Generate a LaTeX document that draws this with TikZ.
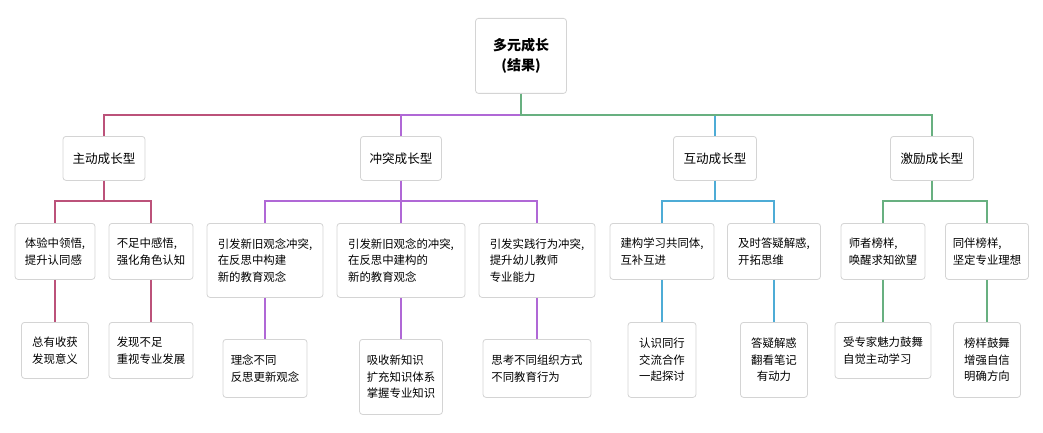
\documentclass[tikz,border=0pt]{standalone}
\usepackage{fontspec}
\setmainfont{Noto Sans CJK SC}
\definecolor{zdred}{RGB}{188,82,122}
\definecolor{ctpurple}{RGB}{176,104,214}
\definecolor{hdblue}{RGB}{78,172,214}
\definecolor{jlgreen}{RGB}{104,176,128}
\begin{document}
\begin{tikzpicture}[x=1pt,y=-1pt,
  box/.style={draw=black!17,line width=0.8pt,rounded corners=3pt,fill=white,
    inner sep=0pt,anchor=north,align=left,font=\fontsize{11.4}{16.7}\selectfont},
  rootbox/.style={box,align=center,font=\fontsize{14}{20}\selectfont\bfseries},
  typebox/.style={box,minimum height=44pt,font=\fontsize{12.6}{15}\selectfont},
  link/.style={line width=1.3pt}]

\useasboundingbox (0,0) rectangle (1043,433);

\coordinate (bus0) at (0,115);
\coordinate (bus1) at (0,201);

\node[rootbox,minimum width=91pt,minimum height=75pt] (root) at (521,18) {多元成长\\(结果)};

\node[typebox,minimum width=82pt] (zd) at (104,136) {主动成长型};
\node[typebox,minimum width=81pt] (ct) at (401,136) {冲突成长型};
\node[typebox,minimum width=83pt] (hd) at (715,136) {互动成长型};
\node[typebox,minimum width=83pt] (jl) at (932,136) {激励成长型};

\node[box,minimum width=80pt,minimum height=56pt] (zd1) at (55,223) {体验中领悟,\\提升认同感};
\node[box,minimum width=84pt,minimum height=56pt] (zd2) at (151,223) {不足中感悟,\\强化角色认知};
\node[box,minimum width=116pt,minimum height=74pt] (ct1) at (265,223) {引发新旧观念冲突,\\在反思中构建\\新的教育观念};
\node[box,minimum width=128pt,minimum height=74pt] (ct2) at (401,223) {引发新旧观念的冲突,\\在反思中建构的\\新的教育观念};
\node[box,minimum width=116pt,minimum height=74pt] (ct3) at (537,223) {引发实践行为冲突,\\提升幼儿教师\\专业能力};
\node[box,minimum width=104pt,minimum height=56pt] (hd1) at (662,223) {建构学习共同体,\\互补互进};
\node[box,minimum width=93pt,minimum height=56pt] (hd2) at (774,223) {及时答疑解惑,\\开拓思维};
\node[box,minimum width=84pt,minimum height=56pt] (jl1) at (883,223) {师者榜样,\\唤醒求知欲望};
\node[box,minimum width=83pt,minimum height=56pt] (jl2) at (987,223) {同伴榜样,\\坚定专业理想};

\node[box,minimum width=67pt,minimum height=56pt,align=center] (zd1a) at (55,322) {总有收获\\发现意义};
\node[box,minimum width=84pt,minimum height=56pt] (zd2a) at (151,322) {发现不足\\重视专业发展};
\node[box,minimum width=84pt,minimum height=58pt] (ct1a) at (265,339) {理念不同\\反思更新观念};
\node[box,minimum width=83pt,minimum height=75pt] (ct2a) at (401,339) {吸收新知识\\扩充知识体系\\掌握专业知识};
\node[box,minimum width=108pt,minimum height=58pt] (ct3a) at (537,339) {思考不同组织方式\\不同教育行为};
\node[box,minimum width=68pt,minimum height=75pt,align=center] (hd1a) at (662,322) {认识同行\\交流合作\\一起探讨};
\node[box,minimum width=67pt,minimum height=75pt,align=center] (hd2a) at (774,322) {答疑解惑\\翻看笔记\\有动力};
\node[box,minimum width=96pt,minimum height=56pt] (jl1a) at (883,322) {受专家魅力鼓舞\\自觉主动学习};
\node[box,minimum width=67pt,minimum height=75pt,align=center] (jl2a) at (987,322) {榜样鼓舞\\增强自信\\明确方向};

\begin{scope}[link,zdred]
\draw (root.south) -- (root.south |- bus0) -| (zd.north);
\draw (zd.south) -- (zd.south |- bus1) -| (zd1.north);
\draw (zd.south) -- (zd.south |- bus1) -| (zd2.north);
\draw (zd1.south) -- (zd1a.north);
\draw (zd2.south) -- (zd2a.north);
\end{scope}

\begin{scope}[link,ctpurple]
\draw (root.south) -- (root.south |- bus0) -| (ct.north);
\draw (ct.south) -- (ct.south |- bus1) -| (ct1.north);
\draw (ct.south) -- (ct2.north);
\draw (ct.south) -- (ct.south |- bus1) -| (ct3.north);
\draw (ct1.south) -- (ct1a.north);
\draw (ct2.south) -- (ct2a.north);
\draw (ct3.south) -- (ct3a.north);
\end{scope}

\begin{scope}[link,hdblue]
\draw (root.south) -- (root.south |- bus0) -| (hd.north);
\draw (hd.south) -- (hd.south |- bus1) -| (hd1.north);
\draw (hd.south) -- (hd.south |- bus1) -| (hd2.north);
\draw (hd1.south) -- (hd1a.north);
\draw (hd2.south) -- (hd2a.north);
\end{scope}

\begin{scope}[link,jlgreen]
\draw (root.south) -- (root.south |- bus0) -| (jl.north);
\draw (jl.south) -- (jl.south |- bus1) -| (jl1.north);
\draw (jl.south) -- (jl.south |- bus1) -| (jl2.north);
\draw (jl1.south) -- (jl1a.north);
\draw (jl2.south) -- (jl2a.north);
\end{scope}

\end{tikzpicture}
\end{document}
